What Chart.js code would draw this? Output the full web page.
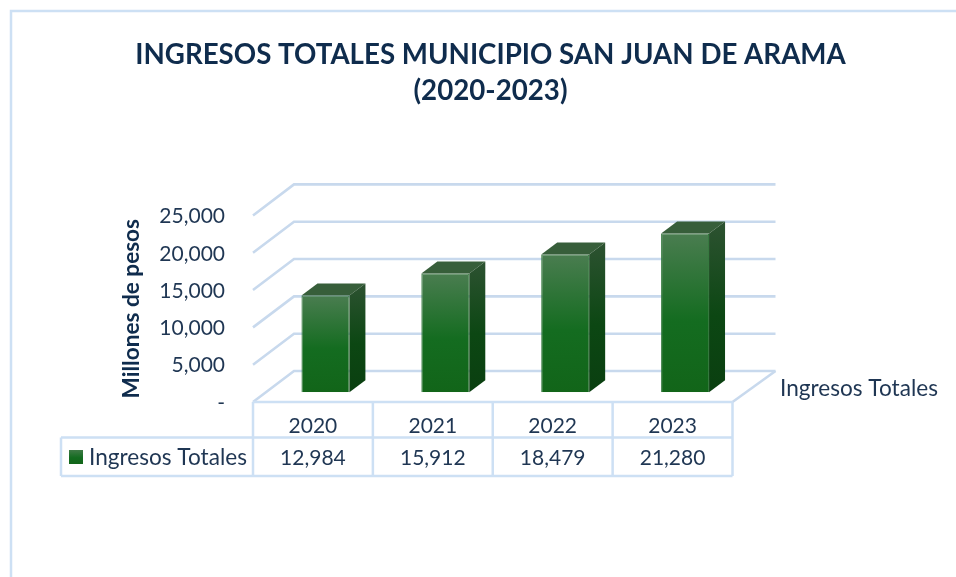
<!DOCTYPE html>
<html lang="es">
<head>
<meta charset="utf-8">
<title>Ingresos Totales</title>
<script src="https://cdn.jsdelivr.net/npm/chart.js@4"></script>
<style>
  html, body { margin: 0; padding: 0; background: #fff; }
  canvas { display: block; }
</style>
</head>
<body>
<canvas id="ingresosChart" width="956" height="577"></canvas>
<script>
const years = ["2020", "2021", "2022", "2023"];
const ingresos = [12984, 15912, 18479, 21280];
const tickLabels = ["-", "5,000", "10,000", "15,000", "20,000", "25,000"];
const tickStep = 5000;
const tickMax = 25000;
const seriesName = "Ingresos Totales";

const textColor = "#1f3653";
const lineColor = "#cde0f4";
const gridColor = "#c8d9ed";
const fontName = "Lato, 'Open Sans', sans-serif";

// depth of the floor and offsets of the bars inside it
const wallDx = 41, wallDy = -31;
const barDx = 12.5, barDy = -9.7;
const sideDx = 16, sideDy = -12;

function frontGradient(c) {
  const y = c.chart.scales.y;
  const y0 = y ? y.getPixelForValue(c.raw) : NaN;
  const y1 = y ? y.getPixelForValue(0) : NaN;
  if (!Number.isFinite(y0) || !Number.isFinite(y1)) return "#126519";
  const g = c.chart.ctx.createLinearGradient(0, y0, 0, y1);
  g.addColorStop(0, "#4a7d50");
  g.addColorStop(0.55, "#146c20");
  g.addColorStop(1, "#126519");
  return g;
}

// outer frame and back walls, under the bars
const wallsPlugin = {
  id: "walls",
  beforeDraw(chart) {
    const { ctx, chartArea: a, scales } = chart;
    ctx.save();
    ctx.strokeStyle = lineColor;
    ctx.lineWidth = 2.5;
    ctx.beginPath();
    ctx.moveTo(956, 11);
    ctx.lineTo(11, 11);
    ctx.lineTo(11, 577);
    ctx.stroke();

    ctx.strokeStyle = gridColor;
    ctx.lineWidth = 2.6;
    scales.y.ticks.forEach((t) => {
      const py = scales.y.getPixelForValue(t.value);
      ctx.beginPath();
      ctx.moveTo(a.left, py);
      ctx.lineTo(a.left + wallDx, py + wallDy);
      ctx.lineTo(a.right + wallDx + 2, py + wallDy);
      ctx.stroke();
    });
    // right edge of the floor
    ctx.beginPath();
    ctx.moveTo(a.right, a.bottom);
    ctx.lineTo(a.right + wallDx + 2, a.bottom + wallDy);
    ctx.stroke();
    ctx.restore();
  },
};

// moves the bars onto the floor and adds their top and side faces
const barsPlugin = {
  id: "bars3d",
  beforeDatasetsDraw(chart) {
    chart.ctx.save();
    chart.ctx.translate(barDx, barDy);
  },
  afterDatasetsDraw(chart) {
    const ctx = chart.ctx;
    chart.getDatasetMeta(0).data.forEach((bar) => {
      const l = bar.x - bar.width / 2;
      const r = bar.x + bar.width / 2;
      const top = bar.y;
      const bottom = bar.base;

      ctx.fillStyle = "#375e3a";
      ctx.beginPath();
      ctx.moveTo(l, top);
      ctx.lineTo(l + sideDx, top + sideDy);
      ctx.lineTo(r + sideDx, top + sideDy);
      ctx.lineTo(r, top);
      ctx.closePath();
      ctx.fill();

      const g = ctx.createLinearGradient(0, top + sideDy, 0, bottom);
      g.addColorStop(0, "#2d5231");
      g.addColorStop(0.55, "#0c4713");
      g.addColorStop(1, "#0a3f10");
      ctx.fillStyle = g;
      ctx.beginPath();
      ctx.moveTo(r, top);
      ctx.lineTo(r + sideDx, top + sideDy);
      ctx.lineTo(r + sideDx, bottom + sideDy);
      ctx.lineTo(r, bottom);
      ctx.closePath();
      ctx.fill();
    });
    ctx.restore();
  },
};

// data table under the chart
const tablePlugin = {
  id: "dataTable",
  afterDraw(chart) {
    const { ctx, chartArea: a, scales } = chart;
    const rowY = 437.5, endY = 476, tableLeft = 61;
    ctx.save();
    ctx.strokeStyle = lineColor;
    ctx.lineWidth = 2.5;
    ctx.beginPath();
    ctx.moveTo(a.left, a.bottom);
    ctx.lineTo(a.right, a.bottom);
    ctx.moveTo(tableLeft, rowY);
    ctx.lineTo(a.right, rowY);
    ctx.moveTo(tableLeft, endY);
    ctx.lineTo(a.right, endY);
    ctx.moveTo(tableLeft, rowY);
    ctx.lineTo(tableLeft, endY);
    const step = (a.right - a.left) / years.length;
    for (let i = 0; i <= years.length; i++) {
      const px = i < years.length ? scales.x.getPixelForValue(i) - step / 2 : a.right;
      ctx.moveTo(px, a.bottom);
      ctx.lineTo(px, endY);
    }
    ctx.stroke();

    // legend key
    const g = ctx.createLinearGradient(0, 450, 0, 464);
    g.addColorStop(0, "#3f7a46");
    g.addColorStop(0.55, "#146c20");
    g.addColorStop(1, "#126519");
    ctx.fillStyle = g;
    ctx.fillRect(69, 450, 14, 14);

    ctx.fillStyle = textColor;
    ctx.font = "22.6px " + fontName;
    ctx.textBaseline = "middle";
    ctx.textAlign = "left";
    ctx.fillText(seriesName, 89, 458);
    ctx.fillText(seriesName, 780, 389);
    ctx.restore();
  },
};

new Chart(document.getElementById("ingresosChart"), {
  type: "bar",
  data: {
    labels: years,
    datasets: [
      {
        label: seriesName,
        data: ingresos,
        backgroundColor: frontGradient,
        borderColor: "#2f7539",
        borderWidth: 1,
        barPercentage: 0.4,
        categoryPercentage: 1,
      },
    ],
  },
  plugins: [wallsPlugin, barsPlugin, tablePlugin],
  options: {
    responsive: false,
    animation: false,
    layout: { padding: { left: 25, right: 0, top: 0, bottom: 0 } },
    plugins: {
      legend: { display: false },
      tooltip: { enabled: false },
      title: {
        display: true,
        text: ["INGRESOS TOTALES MUNICIPIO SAN JUAN DE ARAMA", "(2020-2023)"],
        color: "#0f2c4d",
        font: { family: fontName, size: 27.7, weight: "bold", lineHeight: 1.3 },
        padding: { top: 37, bottom: 106.4 },
      },
    },
    scales: {
      x: {
        grid: { display: false },
        border: { display: false },
        ticks: {
          color: textColor,
          font: { family: fontName, size: 21, lineHeight: 1.52 },
          padding: 0,
          maxRotation: 0,
          autoSkip: false,
          callback: (v, i) => [years[i], ingresos[i].toLocaleString("en-US")],
        },
        afterFit(s) { s.height = 175; },
      },
      y: {
        min: 0,
        max: tickMax,
        grid: { display: false },
        border: { display: false },
        ticks: {
          stepSize: tickStep,
          color: textColor,
          font: { family: fontName, size: 21 },
          padding: 20,
          labelOffset: 1,
          callback: (v, i) => tickLabels[i],
        },
        title: {
          display: true,
          text: "Millones de pesos",
          color: "#0f2c4d",
          font: { family: fontName, size: 22.6, weight: "bold" },
          padding: { top: 93, bottom: 0 },
        },
        afterFit(s) { s.width = 228; },
      },
      // empty axis, keeps room on the right for the series name
      side: {
        position: "right",
        grid: { display: false },
        border: { display: false },
        ticks: { display: false },
        afterFit(s) { s.width = 223.5; },
      },
    },
  },
});
</script>
</body>
</html>
